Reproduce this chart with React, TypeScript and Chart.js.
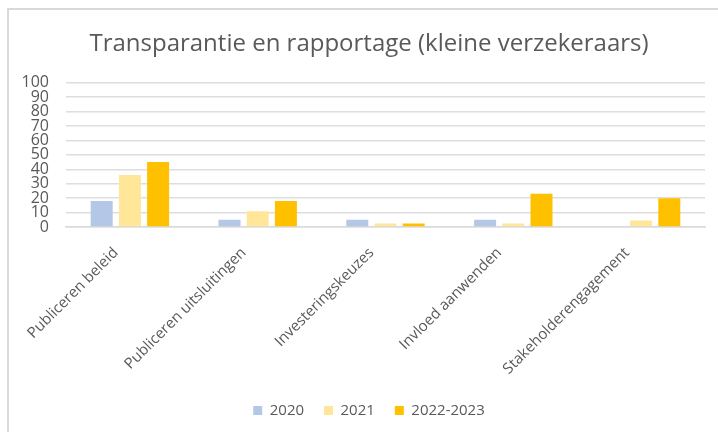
import React, { useEffect, useRef } from "react";
import { Chart, registerables } from "chart.js";

Chart.register(...registerables);

const categories = [
  "Publiceren beleid",
  "Publiceren uitsluitingen",
  "Investeringskeuzes",
  "Invloed aanwenden",
  "Stakeholderengagement",
];
const seriesLabels = ["2020", "2021", "2022-2023"];
const values2020 = [18, 5, 5, 5, 0];
const values2021 = [36, 11, 2.5, 2.5, 4.5];
const values2022 = [45, 18, 2.5, 23, 20];
const seriesColors = ["#b4c7e7", "#ffe699", "#ffc000"];
const yTicks = [0, 10, 20, 30, 40, 50, 60, 70, 80, 90, 100];
const titleText = "Transparantie en rapportage (kleine verzekeraars)";

const FONT = "'Open Sans', sans-serif";
const TEXT = "#595959";

const borderPlugin = {
  id: "frame",
  beforeDraw(chart: any) {
    const ctx = chart.ctx;
    ctx.save();
    ctx.fillStyle = "#ffffff";
    ctx.fillRect(0, 0, chart.width, chart.height);
    ctx.fillStyle = "#d9d9d9";
    ctx.fillRect(7, 8, chart.width - 7, 2);
    ctx.fillRect(7, 8, 2, chart.height - 8);
    ctx.restore();
  },
};

export default function App() {
  const ref = useRef<HTMLCanvasElement | null>(null);
  useEffect(() => {
    if (!ref.current) return;
    const data = [values2020, values2021, values2022];
    const chart = new Chart(ref.current, {
      type: "bar",
      data: {
        labels: categories,
        datasets: seriesLabels.map((l, i) => ({
          label: l,
          data: data[i],
          backgroundColor: seriesColors[i],
          borderWidth: 0,
          categoryPercentage: 0.662,
          barPercentage: 0.78,
        })),
      },
      options: {
        responsive: false,
        animation: false,
        layout: { padding: { top: 10, right: 13, bottom: 4, left: 33 } },
        plugins: {
          title: {
            display: true,
            text: titleText,
            color: TEXT,
            font: { family: FONT, size: 24, weight: "normal" },
            padding: { top: 20, bottom: 24 },
          },
          legend: {
            position: "bottom",
            labels: {
              color: TEXT,
              font: { family: FONT, size: 15 },
              boxWidth: 9,
              boxHeight: 9,
              padding: 20,
            },
          },
          tooltip: { enabled: false },
        },
        scales: {
          x: {
            grid: { display: false, drawTicks: false },
            border: { display: true, color: "#d9d9d9", width: 1.5 },
            ticks: {
              color: TEXT,
              font: { family: FONT, size: 15 },
              minRotation: 45,
              maxRotation: 45,
              autoSkip: false,
              padding: 17,
              labelOffset: -14,
            },
            afterFit: (s: any) => {
              s.height = 156;
            },
          },
          y: {
            min: 0,
            max: 100,
            afterBuildTicks: (s: any) => {
              s.ticks = yTicks.map((v) => ({ value: v }));
            },
            grid: { color: "#dedede", lineWidth: 1.5, drawTicks: false },
            border: { display: false },
            ticks: {
              color: TEXT,
              font: { family: FONT, size: 16 },
              padding: 17,
              autoSkip: false,
            },
            afterFit: (s: any) => {
              s.width = 33;
              s._computeLabelArea = () => null;
            },
          },
        },
      },
      plugins: [borderPlugin],
    });
    return () => chart.destroy();
  }, []);
  return (
    <div style={{ position: "absolute", left: 0, top: 0, width: 718, height: 432 }}>
      <canvas ref={ref} width={718} height={432} style={{ display: "block" }} />
    </div>
  );
}
